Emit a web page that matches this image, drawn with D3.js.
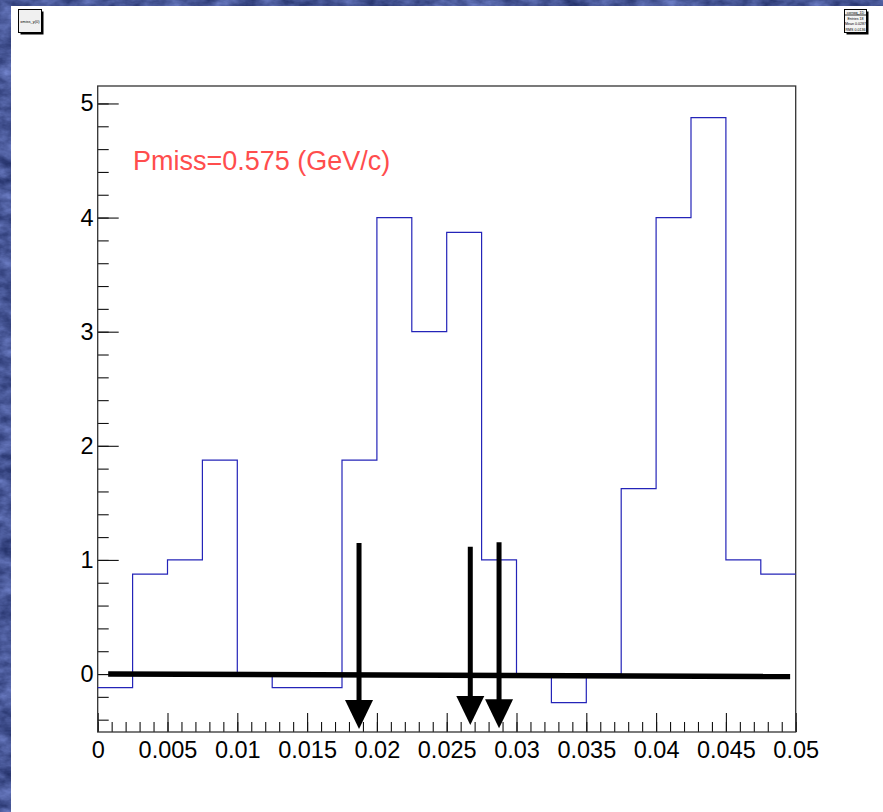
<html lang="en">
    <head>
        <meta charset="utf-8">
        <script src="https://d3js.org/d3.v7.min.js"></script>
        <title>Pmiss histogram</title>
        <style>
            body { margin: 0; background: #fff; }
            svg { display: block; font-family: "Liberation Sans", Arial, sans-serif; }
        </style>
    </head>
    <body>
        <svg id="chart"></svg>
        <script>
            // ------------------------------------------------------------------------
            // Data
            // ------------------------------------------------------------------------
            const binEdges = [0, 0.0025, 0.005, 0.0075, 0.01, 0.0125, 0.015, 0.0175, 0.02, 0.0225,
                              0.025, 0.0275, 0.03, 0.0325, 0.035, 0.0375, 0.04, 0.0425, 0.045, 0.0475, 0.05];
            const binValues = [-0.12, 0.875, 1.0, 1.875, 0, -0.12, -0.12, 1.875, 4.0, 3.0,
                               3.87, 1.0, 0, -0.25, 0, 1.625, 4.0, 4.875, 1.0, 0.875];

            // thick black line drawn near y = 0
            const baseLine = [{x: 0.00075, y: 0.0}, {x: 0.0496, y: -0.022}];

            // arrows: x position, top and tip in data units
            const arrowX = [0.01872, 0.02669, 0.02875];
            const arrowTop = [1.148, 1.116, 1.154];
            const arrowTip = [-0.482, -0.447, -0.476];

            const xTickValues = [0, 0.005, 0.01, 0.015, 0.02, 0.025, 0.03, 0.035, 0.04, 0.045, 0.05];
            const xTickLabels = ["0", "0.005", "0.01", "0.015", "0.02", "0.025", "0.03", "0.035", "0.04", "0.045", "0.05"];
            const yTickValues = [0, 1, 2, 3, 4, 5];
            const yTickLabels = ["0", "1", "2", "3", "4", "5"];

            const label = "Pmiss=0.575 (GeV/c)";
            const statsLines = ["corrwq_1D", "Entries  18", "Mean  0.0287", "RMS  0.0136"];

            // ------------------------------------------------------------------------
            // Canvas
            // ------------------------------------------------------------------------
            const width = 883;
            const height = 812;

            const svg = d3.select("#chart")
                .attr("width", width)
                .attr("height", height);

            // stone-like blue texture behind the pad
            const defs = svg.append("defs");
            const filt = defs.append("filter").attr("id", "stone")
                .attr("color-interpolation-filters", "sRGB")
                .attr("x", 0).attr("y", 0).attr("width", "100%").attr("height", "100%");
            filt.append("feTurbulence")
                .attr("type", "fractalNoise")
                .attr("baseFrequency", "0.05 0.09")
                .attr("numOctaves", 4)
                .attr("seed", 3);
            filt.append("feColorMatrix")
                .attr("type", "matrix")
                .attr("values", "0.4 0 0 0 0.08  0.42 0 0 0 0.13  0.5 0 0 0 0.34  0 0 0 0 1");

            svg.append("rect")
                .attr("width", width).attr("height", height)
                .attr("fill", "#46548c");
            svg.append("rect")
                .attr("width", width).attr("height", height)
                .attr("filter", "url(#stone)");

            // white pad
            svg.append("rect")
                .attr("x", 11).attr("y", 6)
                .attr("width", width - 11).attr("height", height - 6)
                .attr("fill", "#fff");

            // ------------------------------------------------------------------------
            // Scales and axes
            // ------------------------------------------------------------------------
            const x = d3.scaleLinear().domain([0, 0.05]).range([97.7, 795.7]);
            const y = d3.scaleLinear().domain([-0.508, 5.153]).range([732, 86]);

            const xMinor = d3.range(0, 51).map(i => i * 0.001);
            const yMinor = d3.range(-2, 26).map(i => i * 0.2);

            // minor ticks
            svg.append("g")
                .attr("transform", `translate(0,${y.range()[0]})`)
                .call(d3.axisBottom(x).tickValues(xMinor).tickSizeInner(-10).tickSizeOuter(0).tickFormat(""));
            svg.append("g")
                .attr("transform", `translate(${x.range()[0]},0)`)
                .call(d3.axisLeft(y).tickValues(yMinor).tickSizeInner(-11).tickSizeOuter(0).tickFormat(""));

            // major ticks with labels
            svg.append("g")
                .attr("transform", `translate(0,${y.range()[0]})`)
                .call(d3.axisBottom(x).tickValues(xTickValues).tickSizeInner(-19).tickSizeOuter(0)
                    .tickPadding(9).tickFormat((d, i) => xTickLabels[i]));
            svg.append("g")
                .attr("transform", `translate(${x.range()[0]},0)`)
                .call(d3.axisLeft(y).tickValues(yTickValues).tickSizeInner(-21).tickSizeOuter(0)
                    .tickPadding(4).tickFormat((d, i) => yTickLabels[i]));

            svg.selectAll(".domain").remove();
            svg.selectAll(".tick line").attr("stroke", "#111").attr("stroke-width", 1.1);
            svg.selectAll(".tick text")
                .attr("fill", "#000")
                .style("font-family", "'Liberation Sans', Arial, sans-serif")
                .style("font-size", "23.5px");

            // frame
            svg.append("rect")
                .attr("x", x.range()[0]).attr("y", y.range()[1])
                .attr("width", x.range()[1] - x.range()[0])
                .attr("height", y.range()[0] - y.range()[1])
                .attr("fill", "none")
                .attr("stroke", "#333")
                .attr("stroke-width", 1.3);

            // ------------------------------------------------------------------------
            // Histogram outline
            // ------------------------------------------------------------------------
            const histPoints = binValues.map((v, i) => ({x: binEdges[i], y: v}));
            histPoints.push({x: binEdges[binEdges.length - 1], y: binValues[binValues.length - 1]});

            const stepLine = d3.line()
                .x(d => x(d.x))
                .y(d => y(d.y))
                .curve(d3.curveStepAfter);

            svg.append("path")
                .datum(histPoints)
                .attr("d", stepLine)
                .attr("fill", "none")
                .attr("stroke", "#2424b8")
                .attr("stroke-width", 1.2);

            // ------------------------------------------------------------------------
            // Black line at zero and arrows
            // ------------------------------------------------------------------------
            svg.append("line")
                .attr("x1", x(baseLine[0].x)).attr("y1", y(baseLine[0].y))
                .attr("x2", x(baseLine[1].x)).attr("y2", y(baseLine[1].y))
                .attr("stroke", "#000")
                .attr("stroke-width", 5.5);

            const headW = 14;
            const headH = 29;
            const arrows = svg.append("g").selectAll("g")
                .data(arrowX.map((d, i) => ({x: d, top: arrowTop[i], tip: arrowTip[i]})))
                .enter().append("g");

            arrows.append("line")
                .attr("x1", d => x(d.x)).attr("x2", d => x(d.x))
                .attr("y1", d => y(d.top))
                .attr("y2", d => y(d.tip) - headH + 2)
                .attr("stroke", "#000")
                .attr("stroke-width", 5);

            arrows.append("path")
                .attr("d", d => {
                    const px = x(d.x), py = y(d.tip);
                    return `M${px - headW},${py - headH}L${px + headW},${py - headH}L${px},${py}Z`;
                })
                .attr("fill", "#000");

            // ------------------------------------------------------------------------
            // Label
            // ------------------------------------------------------------------------
            svg.append("text")
                .attr("x", 133)
                .attr("y", 170)
                .attr("fill", "#ff4d4d")
                .style("font-size", "27px")
                .text(label);

            // ------------------------------------------------------------------------
            // Little title box and stats box at the top
            // ------------------------------------------------------------------------
            svg.append("rect").attr("x", 20.5).attr("y", 11.5).attr("width", 23).attr("height", 23).attr("fill", "#000");
            svg.append("rect").attr("x", 18.5).attr("y", 9.5).attr("width", 23).attr("height", 23)
                .attr("fill", "#f0f0f0").attr("stroke", "#000").attr("stroke-width", 1);
            svg.append("text").attr("x", 30).attr("y", 22.5).attr("text-anchor", "middle")
                .style("font-size", "4px").attr("fill", "#000").text("xmiss_y(0)");

            svg.append("rect").attr("x", 846.5).attr("y", 11.5).attr("width", 22).attr("height", 23).attr("fill", "#000");
            svg.append("rect").attr("x", 844.5).attr("y", 9.5).attr("width", 22).attr("height", 23)
                .attr("fill", "#f4f4f4").attr("stroke", "#000").attr("stroke-width", 1);
            svg.append("line").attr("x1", 844.5).attr("x2", 866.5).attr("y1", 15).attr("y2", 15)
                .attr("stroke", "#000").attr("stroke-width", 0.8);
            svg.append("g").selectAll("text")
                .data(statsLines)
                .enter().append("text")
                .attr("x", 855.5)
                .attr("y", (d, i) => 14 + i * 5.7)
                .attr("text-anchor", "middle")
                .style("font-size", "3.6px")
                .attr("fill", "#000")
                .text(d => d);
        </script>
    </body>
</html>
